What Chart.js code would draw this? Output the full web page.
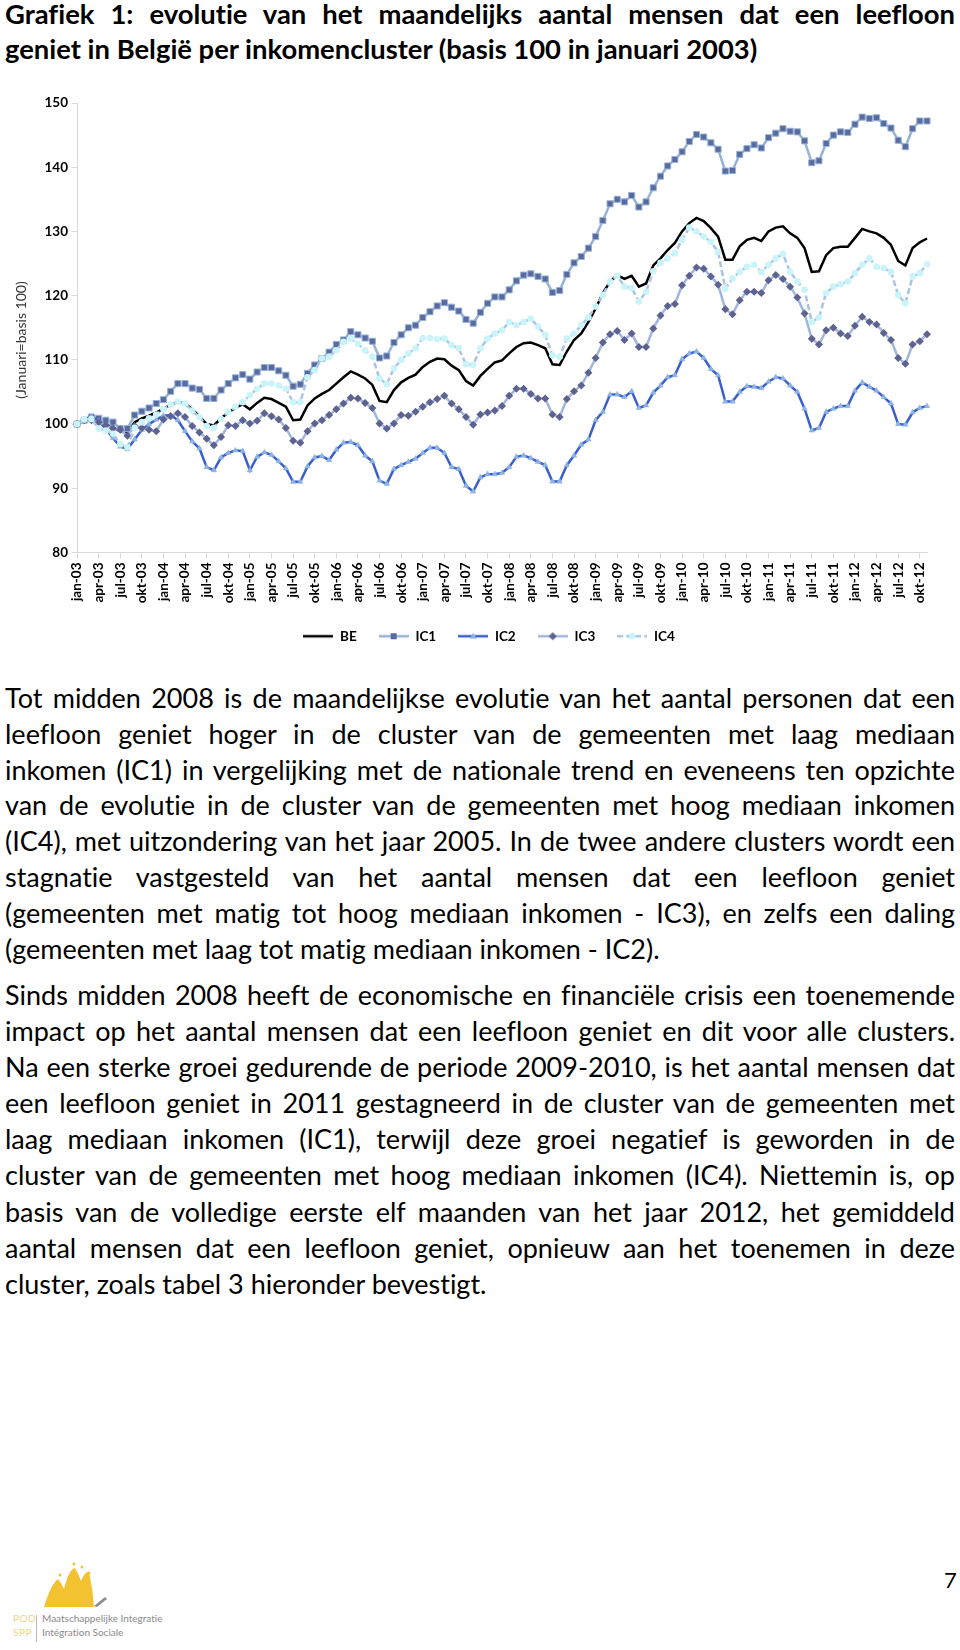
<!DOCTYPE html>
<html>
<head>
<meta charset="utf-8">
<script src="https://cdn.jsdelivr.net/npm/chart.js@4.4.1/dist/chart.umd.min.js"></script>
<style>
  html, body { margin: 0; padding: 0; background: #fff; }
  body { width: 960px; height: 1650px; position: relative; overflow: hidden; font-family: Lato, "Open Sans", sans-serif; color: #000;
         font-variant-ligatures: none; font-feature-settings: "liga" 0, "clig" 0; }
  .title { position: absolute; left: 5px; width: 950px; top: -3px; font-weight: bold; font-size: 27.4px; line-height: 34.8px; }
  .para { position: absolute; left: 5px; width: 950px; font-size: 27px; }
  .ln { display: block; text-align: justify; text-align-last: justify; }
  .ln.last { text-align-last: left; }
  #chartBox { position: absolute; left: 0; top: 88px; width: 960px; height: 580px; }
  .logo { position: absolute; left: 0; top: 1560px; width: 200px; height: 90px; }
  .logo .pod { position: absolute; left: 13px; font-size: 10px; color: #f0d48a; letter-spacing: 0.5px; }
  .logo .txt { position: absolute; left: 42px; font-size: 10px; color: #8a8a8a; white-space: nowrap; }
  .logo .sep { position: absolute; left: 36px; top: 55px; width: 1px; height: 27px; background: #bbb; }
  .page { position: absolute; left: 944px; top: 1566px; font-size: 22px; }
</style>
</head>
<body>

<div class="title">
  <span class="ln">Grafiek 1: evolutie van het maandelijks aantal mensen dat een leefloon</span>
  <span class="ln last">geniet in België per inkomencluster (basis 100 in januari 2003)</span>
</div>

<div id="chartBox"><canvas id="leefloonChart"></canvas></div>

<div class="para" style="top:680px; line-height:35.8px;">
  <span class="ln">Tot midden 2008 is de maandelijkse evolutie van het aantal personen dat een</span>
  <span class="ln">leefloon geniet hoger in de cluster van de gemeenten met laag mediaan</span>
  <span class="ln">inkomen (IC1) in vergelijking met de nationale trend en eveneens ten opzichte</span>
  <span class="ln">van de evolutie in de cluster van de gemeenten met hoog mediaan inkomen</span>
  <span class="ln">(IC4), met uitzondering van het jaar 2005. In de twee andere clusters wordt een</span>
  <span class="ln">stagnatie vastgesteld van het aantal mensen dat een leefloon geniet</span>
  <span class="ln">(gemeenten met matig tot hoog mediaan inkomen - IC3), en zelfs een daling</span>
  <span class="ln last">(gemeenten met laag tot matig mediaan inkomen - IC2).</span>
</div>

<div class="para" style="top:977px; line-height:36.1px;">
  <span class="ln">Sinds midden 2008 heeft de economische en financiële crisis een toenemende</span>
  <span class="ln">impact op het aantal mensen dat een leefloon geniet en dit voor alle clusters.</span>
  <span class="ln">Na een sterke groei gedurende de periode 2009-2010, is het aantal mensen dat</span>
  <span class="ln">een leefloon geniet in 2011 gestagneerd in de cluster van de gemeenten met</span>
  <span class="ln">laag mediaan inkomen (IC1), terwijl deze groei negatief is geworden in de</span>
  <span class="ln">cluster van de gemeenten met hoog mediaan inkomen (IC4). Niettemin is, op</span>
  <span class="ln">basis van de volledige eerste elf maanden van het jaar 2012, het gemiddeld</span>
  <span class="ln">aantal mensen dat een leefloon geniet, opnieuw aan het toenemen in deze</span>
  <span class="ln last">cluster, zoals tabel 3 hieronder bevestigt.</span>
</div>

<div class="logo">
  <svg width="120" height="52" style="position:absolute;left:0;top:0">
    <path d="M44 47 Q51 24 58 19 Q62 24 64 29 Q69 9 75 8 Q79 15 81 21 Q85 11 89 12 Q93 30 94 47 Z" fill="#f2c230"/>
    <path d="M94 46 L105 37 L107 39 L97 47 Z" fill="#8c8c8c"/>
    <circle cx="60" cy="15" r="1.5" fill="#f2c230"/>
    <circle cx="74" cy="4" r="1.5" fill="#f2c230"/>
    <circle cx="82" cy="7" r="1.5" fill="#f2c230"/>
    <circle cx="89" cy="13" r="1.5" fill="#f2c230"/>
  </svg>
  <div class="pod" style="top:52px">POD</div>
  <div class="pod" style="top:66px">SPP</div>
  <div class="sep"></div>
  <div class="txt" style="top:52px">Maatschappelijke Integratie</div>
  <div class="txt" style="top:66px">Intégration Sociale</div>
</div>

<div class="page">7</div>

<script>
// month names and years used for the category labels
const monthNames = ['jan', 'feb', 'mrt', 'apr', 'mei', 'jun', 'jul', 'aug', 'sep', 'okt', 'nov', 'dec'];
const years = ['03', '04', '05', '06', '07', '08', '09', '10', '11', '12'];
const monthCount = 119; // jan-03 .. nov-12

// index values (januari 2003 = 100)
const beValues = [
  100, 100.6, 100.9, 100.4, 99.9, 99.5, 98.9, 98.6, 100.3, 100.9, 101.3, 101.8,
  102.4, 103, 103.5, 103.2, 102.3, 101.2, 100, 99.8, 100.9, 101.8, 102.5, 103.1,
  102.3, 103.3, 104.1, 103.9, 103.3, 102.7, 100.6, 100.7, 102.9, 104, 104.7, 105.3,
  106.3, 107.3, 108.2, 107.7, 107.1, 106.1, 103.6, 103.4, 105.3, 106.5, 107.2, 107.7,
  108.9, 109.7, 110.2, 110.1, 109.1, 108.4, 106.7, 106, 107.5, 108.6, 109.6, 109.9,
  111, 112, 112.6, 112.7, 112.3, 111.8, 109.3, 109.2, 111.3, 113.1, 114.1, 115.9,
  118, 120.4, 122.2, 123.2, 122.6, 123.1, 121.4, 121.9, 124.7, 125.8, 127.1, 128.2,
  130, 131.3, 132.1, 131.6, 130.5, 129.2, 125.6, 125.6, 127.7, 128.7, 129, 128.5,
  130, 130.6, 130.8, 129.7, 129, 127.4, 123.7, 123.8, 126.3, 127.4, 127.6, 127.6,
  129, 130.4, 130, 129.7, 129, 127.9, 125.4, 124.7, 127.4, 128.3, 128.9
];
const ic1Values = [
  100, 100.6, 101.1, 100.9, 100.6, 100.3, 99.3, 99.3, 101.4, 102, 102.5, 103.2,
  103.8, 105.1, 106.3, 106.3, 105.6, 105.4, 104, 104, 105.3, 106.3, 107.2, 107.7,
  107, 108.1, 108.8, 108.8, 108.3, 107.6, 105.9, 106.2, 107.9, 109.2, 110.2, 111.2,
  112.4, 113.1, 114.4, 113.9, 113.4, 112.9, 110.3, 110.6, 112.7, 113.9, 115, 115.4,
  116.6, 117.5, 118.4, 118.9, 118.2, 117.6, 116.3, 115.7, 117.4, 118.8, 119.8, 119.8,
  120.9, 122.3, 123.2, 123.4, 123, 122.6, 120.5, 120.8, 123.3, 125.1, 126.1, 127.4,
  129.2, 131.7, 134.3, 135, 134.6, 135.6, 133.8, 134.6, 136.8, 138.6, 140.2, 141.2,
  142.4, 144, 145.1, 144.7, 143.8, 142.8, 139.4, 139.5, 142, 142.9, 143.5, 143,
  144.6, 145.3, 146, 145.6, 145.5, 144.1, 140.7, 141, 143.7, 145, 145.5, 145.4,
  146.7, 147.8, 147.6, 147.7, 146.8, 146.1, 144.2, 143.2, 146, 147.2, 147.2
];
const ic2Values = [
  100, 100.7, 101.2, 100.5, 99.3, 97.8, 96.5, 96.1, 97.6, 99.1, 100, 100.7,
  101.3, 101.4, 100.6, 98.9, 97.3, 96.2, 93.3, 92.8, 94.8, 95.5, 95.9, 95.8,
  92.8, 94.9, 95.6, 95.2, 94.2, 93.1, 91, 91, 93.4, 94.8, 95, 94.4,
  96, 97.1, 97.2, 96.7, 95.1, 94.2, 91.2, 90.7, 93, 93.6, 94.1, 94.6,
  95.5, 96.3, 96.3, 95.5, 93.3, 93, 90.4, 89.5, 91.7, 92.2, 92.2, 92.4,
  93.3, 94.9, 95.1, 94.7, 94.1, 93.6, 91.05, 91.05, 93.6, 95.1, 96.8, 97.6,
  100.6, 101.9, 104.6, 104.6, 104.2, 105.1, 102.5, 102.9, 104.9, 106, 107.3, 107.6,
  110.1, 111, 111.3, 110.3, 108.6, 107.6, 103.5, 103.5, 105, 105.9, 105.8, 105.6,
  106.6, 107.3, 107.1, 106, 105, 102.4, 99, 99.4, 101.9, 102.4, 102.8, 102.8,
  105.2, 106.5, 105.8, 105.2, 104.2, 103.2, 100, 99.9, 101.8, 102.5, 102.8
];
const ic3Values = [
  100, 100.6, 100.6, 100.3, 99.8, 99.3, 99.1, 98.2, 99.7, 99.4, 99.1, 98.9,
  100.7, 101.2, 101.7, 101.1, 99.7, 98.7, 97.7, 96.7, 98, 99.8, 99.7, 100.6,
  100.1, 100.5, 101.7, 101.2, 100.7, 99.4, 97.4, 97.1, 98.9, 100.1, 100.6, 101.4,
  102.3, 103.2, 104.1, 104, 103.3, 102.5, 100.1, 99.3, 100.1, 101.4, 101.3, 101.9,
  102.7, 103.4, 103.9, 104.4, 103.2, 102.3, 101.1, 99.9, 101.5, 101.8, 102.1, 102.8,
  104.4, 105.5, 105.5, 104.7, 104, 104, 101.5, 101.1, 103.9, 105.1, 106, 108,
  110.3, 112.7, 114, 114.5, 113.1, 114.1, 112, 112, 114.9, 116.9, 118.4, 118.7,
  121.6, 123.1, 124.4, 124.2, 123, 121.7, 117.9, 117.1, 119.3, 120.6, 120.6, 120.4,
  122.4, 123.2, 122.6, 121.4, 119.7, 117.2, 113.3, 112.4, 114.6, 115, 114.1, 113.7,
  115.3, 116.7, 115.9, 115.5, 114.2, 113.1, 110.3, 109.4, 112.4, 112.9, 114
];
const ic4Values = [
  100, 100.7, 100.8, 99.3, 99, 98.5, 96.9, 96.4, 99.4, 100.3, 100.9, 101.5,
  102.3, 103, 103.5, 103.2, 102.1, 101.1, 99.7, 99.4, 100.8, 101.9, 102.7, 103.4,
  104.5, 105.5, 106.3, 106.3, 106, 105.5, 103.4, 103.4, 107.3, 108.4, 110.2, 110.5,
  111.5, 112.8, 113.3, 112.5, 111.5, 110.5, 107.1, 106.2, 108.7, 110, 111, 111.8,
  113.4, 113.4, 113.2, 113.3, 112.3, 111.8, 109.3, 109.2, 111.8, 113.3, 114.1, 114.6,
  115.9, 115.4, 115.9, 116.4, 115.2, 113.9, 110.7, 110.5, 113.3, 114.1, 115.4, 116.6,
  118.3, 120.1, 122.2, 123.1, 121.4, 121.2, 119.1, 120.6, 123.8, 125.1, 125.8, 126.6,
  128.7, 130.6, 130, 129.2, 128.4, 126.8, 121.1, 122.7, 123.7, 124.5, 124.8, 123.7,
  124.8, 125.8, 126.5, 123.7, 122.2, 120.9, 115.9, 116.6, 120.4, 121.4, 121.8, 122.2,
  123.5, 124.8, 125.8, 124.5, 124.3, 123.7, 120.1, 118.8, 123, 123.5, 124.9
];
const seriesNames = ['BE', 'IC1', 'IC2', 'IC3', 'IC4'];

// build "jan-03" style labels
const labels = [];
for (let i = 0; i < monthCount; i++) {
    labels.push(monthNames[i % 12] + '-' + years[Math.floor(i / 12)]);
}

const axisFont = { family: 'Lato, "Open Sans", sans-serif', size: 13.5, weight: 'bold' };
const gridColor = '#d9d9d9';

// small canvases for the legend: line with the marker in the middle
function legendIcon(lineColor, dash, marker) {
    const c = document.createElement('canvas');
    c.width = 30;
    c.height = 12;
    const g = c.getContext('2d');
    g.strokeStyle = lineColor;
    g.lineWidth = 2.5;
    g.setLineDash(dash);
    g.beginPath();
    g.moveTo(0, 6);
    g.lineTo(30, 6);
    g.stroke();
    g.setLineDash([]);
    if (marker) marker(g, 15, 6);
    return c;
}

const legendIcons = [
    legendIcon('#000000', [], null),
    legendIcon('#95b3d7', [], (g, x, y) => { g.fillStyle = '#5b6a9e'; g.fillRect(x - 3, y - 3, 6, 6); }),
    legendIcon('#3a5fcd', [], (g, x, y) => {
        g.fillStyle = '#8db4e2';
        g.beginPath(); g.moveTo(x, y - 3.5); g.lineTo(x + 3.5, y + 2.5); g.lineTo(x - 3.5, y + 2.5); g.closePath(); g.fill();
    }),
    legendIcon('#9fb6dd', [], (g, x, y) => {
        g.fillStyle = '#5d6290';
        g.beginPath(); g.moveTo(x, y - 4); g.lineTo(x + 4, y); g.lineTo(x, y + 4); g.lineTo(x - 4, y); g.closePath(); g.fill();
    }),
    legendIcon('#a9c4e4', [6, 3], (g, x, y) => {
        g.fillStyle = '#c8f4fa';
        g.beginPath(); g.arc(x, y, 3.3, 0, Math.PI * 2); g.fill();
    })
];

// the legend in the original sits a little left of the plot centre
const legendShift = {
    id: 'legendShift',
    afterLayout(chart) {
        chart.legend.left -= 13;
        chart.legend.right -= 13;
    }
};

const ctx = document.getElementById('leefloonChart').getContext('2d');
const leefloonChart = new Chart(ctx, {
    type: 'line',
    data: {
        labels: labels,
        datasets: [
            {
                label: seriesNames[0],
                data: beValues,
                borderColor: '#000000',
                borderWidth: 2.5,
                pointRadius: 0,
                order: 5
            },
            {
                label: seriesNames[1],
                data: ic1Values,
                borderColor: '#95b3d7',
                borderWidth: 2.5,
                pointStyle: 'rect',
                pointRadius: 4.3,
                pointBackgroundColor: '#5b6a9e',
                pointBorderColor: '#95b3d7',
                pointBorderWidth: 1,
                order: 4
            },
            {
                label: seriesNames[2],
                data: ic2Values,
                borderColor: '#3a5fcd',
                borderWidth: 2.5,
                pointStyle: 'triangle',
                pointRadius: 3.2,
                pointBackgroundColor: '#8db4e2',
                pointBorderColor: '#8db4e2',
                pointBorderWidth: 0.5,
                order: 3
            },
            {
                label: seriesNames[3],
                data: ic3Values,
                borderColor: '#9fb6dd',
                borderWidth: 2.5,
                pointStyle: 'rectRot',
                pointRadius: 4,
                pointBackgroundColor: '#5d6290',
                pointBorderColor: '#5d6290',
                pointBorderWidth: 0,
                order: 2
            },
            {
                label: seriesNames[4],
                data: ic4Values,
                borderColor: '#a9c4e4',
                borderDash: [6, 3],
                borderWidth: 2.5,
                pointStyle: 'circle',
                pointRadius: 3.3,
                pointBackgroundColor: '#c8f4fa',
                pointBorderColor: '#c8f4fa',
                pointBorderWidth: 0,
                order: 1
            }
        ]
    },
    options: {
        responsive: true,
        maintainAspectRatio: false,
        animation: false,
        layout: {
            padding: { top: 15, right: 33, left: 0, bottom: 15 }
        },
        plugins: {
            tooltip: { enabled: false },
            legend: {
                position: 'bottom',
                fullSize: false,
                labels: {
                    usePointStyle: true,
                    pointStyleWidth: 30,
                    padding: 22,
                    color: '#000',
                    font: axisFont,
                    generateLabels: chart => chart.data.datasets.map((ds, i) => ({
                        text: ds.label,
                        pointStyle: legendIcons[i],
                        datasetIndex: i,
                        hidden: false,
                        lineWidth: 0,
                        fillStyle: 'transparent',
                        strokeStyle: 'transparent'
                    }))
                }
            }
        },
        scales: {
            x: {
                grid: {
                    drawOnChartArea: false,
                    tickLength: 6,
                    color: c => (c.index % 3 === 0 ? gridColor : 'rgba(0,0,0,0)')
                },
                border: { color: gridColor },
                ticks: {
                    autoSkip: false,
                    maxRotation: 90,
                    minRotation: 90,
                    padding: 4,
                    color: '#000',
                    font: axisFont,
                    callback: function (value, index) {
                        return index % 3 === 0 ? this.getLabelForValue(value) : '';
                    }
                },
                afterFit: scale => { scale.height = 55; }
            },
            y: {
                min: 80,
                max: 150,
                ticks: { stepSize: 10, padding: 4, color: '#000', font: axisFont },
                grid: { drawOnChartArea: false, tickLength: 5, color: gridColor },
                border: { color: gridColor },
                title: {
                    display: true,
                    // trailing spaces push the rotated title slightly down, as in the original
                    text: '(Januari=basis 100)\u2003\u2003\u00a0',
                    color: '#333',
                    font: { family: 'Lato, "Open Sans", sans-serif', size: 14 },
                    padding: { top: 13, bottom: 0 }
                },
                afterFit: scale => { scale.width = 77; }
            }
        }
    },
    plugins: [legendShift]
});
</script>
</body>
</html>
